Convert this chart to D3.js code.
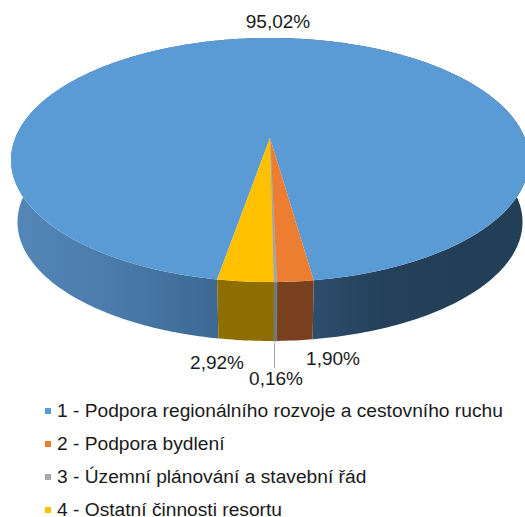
<!DOCTYPE html>
<html>
<head>
<meta charset="utf-8">
<script src="https://cdn.jsdelivr.net/npm/d3@7"></script>
<style>
  html, body { margin: 0; padding: 0; background: #fff; overflow: hidden; }
  svg { display: block; font-family: "Liberation Sans", Arial, sans-serif; }
</style>
</head>
<body>
<div id="chart"></div>
<script>
// values
const categories = [
  "1 - Podpora regionálního rozvoje a cestovního ruchu",
  "2 - Podpora bydlení",
  "3 - Územní plánování a stavební řád",
  "4 - Ostatní činnosti resortu"
];
const shares = [95.02, 1.90, 0.16, 2.92];
const shareLabels = ["95,02%", "1,90%", "0,16%", "2,92%"];
const colors = ["#5b9bd5", "#ed7d31", "#a5a5a5", "#ffc000"];
const sideColors = ["#3f6f9e", "#78401e", "#777777", "#8f6e00"];

const width = 525, height = 517;

// the top face of the pie, seen in perspective
const cx = 270, cy = 160, rx = 259, ry = 122;
const apexY = 138, depth = 59;
const v0 = (apexY - cy) / ry;

const svg = d3.select("#chart")
  .append("svg")
    .attr("width", width)
    .attr("height", height);

// maps a point on the flat pie to the tilted ellipse, centre goes to the apex
function project(angle, r, bottom) {
  const u = r * Math.sin(angle), v = -r * Math.cos(angle);
  const w = 1 + v * v0;
  const px = u * Math.sqrt(1 - v0 * v0) / w;
  const py = (v + v0) / w;
  const shrink = bottom ? 0.975 : 1;
  return [cx + rx * px * shrink, cy + ry * py * shrink + (bottom ? depth + 3 : 0)];
}

// slices run clockwise, the grey one sits just right of the front
const rotation = Math.PI - 0.022 - (shares[0] / 100) * 2 * Math.PI - (shares[1] / 100) * 2 * Math.PI;
const pie = d3.pie().sort(null).startAngle(rotation).endAngle(rotation + 2 * Math.PI);
const arcs = pie(shares);

const line = d3.line();

function rim(a, b, bottom) {
  const n = Math.max(2, Math.ceil(Math.abs(b - a) * 60));
  return d3.range(n + 1).map(i => project(a + (b - a) * i / n, 1, bottom));
}

// gradient on the blue side wall, lighter on the left
const defs = svg.append("defs");
const sideGrad = defs.append("linearGradient")
  .attr("id", "side-gradient")
  .attr("gradientUnits", "userSpaceOnUse")
  .attr("x1", cx - rx).attr("y1", 0)
  .attr("x2", cx + rx).attr("y2", 0);
sideGrad.selectAll("stop")
  .data([
    {offset: "0%", color: "#5486b8"},
    {offset: "20%", color: "#4a7bab"},
    {offset: "38%", color: "#3d6a95"},
    {offset: "58%", color: "#2e4e6e"},
    {offset: "72%", color: "#24405a"},
    {offset: "100%", color: "#233f56"}
  ])
  .enter().append("stop")
    .attr("offset", d => d.offset)
    .attr("stop-color", d => d.color);

// side walls
svg.append("g").selectAll("path")
  .data(arcs)
  .enter().append("path")
    .attr("fill", (d, i) => i === 0 ? "url(#side-gradient)" : sideColors[i])
    .attr("stroke", (d, i) => i === 2 ? sideColors[i] : "none")
    .attr("stroke-width", 1)
    .attr("d", d => {
      const top = rim(d.startAngle, d.endAngle, false);
      const bot = rim(d.startAngle, d.endAngle, true).reverse();
      return line(top.concat(bot)) + "Z";
    });

// top face
svg.append("g").selectAll("path")
  .data(arcs)
  .enter().append("path")
    .attr("fill", (d, i) => colors[i])
    .attr("stroke", (d, i) => i === 2 ? colors[i] : "none")
    .attr("stroke-width", 0.8)
    .attr("d", d => {
      const apex = project(0, 0, false);
      return line([apex].concat(rim(d.startAngle, d.endAngle, false))) + "Z";
    });

// leader line of the 0,16% label
svg.append("line")
  .attr("x1", 274.5).attr("y1", 343)
  .attr("x2", 274.5).attr("y2", 368)
  .attr("stroke", "#a6a6a6")
  .attr("stroke-width", 1);

// value labels
const labelX = [278, 333, 276, 217];
const labelY = [28, 365, 385, 369];
svg.append("g").selectAll("text")
  .data(shareLabels)
  .enter().append("text")
    .attr("x", (d, i) => labelX[i])
    .attr("y", (d, i) => labelY[i])
    .attr("text-anchor", "middle")
    .attr("font-size", 19)
    .attr("fill", "#1a1a1a")
    .text(d => d);

// legend
const legendY = d3.scalePoint().domain(categories).range([411, 510]);
const legend = svg.append("g").selectAll("g")
  .data(categories)
  .enter().append("g")
    .attr("transform", d => `translate(0,${legendY(d)})`);
legend.append("rect")
  .attr("x", 45).attr("y", -3)
  .attr("width", 6).attr("height", 6)
  .attr("fill", (d, i) => colors[i]);
legend.append("text")
  .attr("x", 57).attr("y", 5.5)
  .attr("font-size", 19.2)
  .attr("fill", "#1a1a1a")
  .text(d => d);
</script>
</body>
</html>
